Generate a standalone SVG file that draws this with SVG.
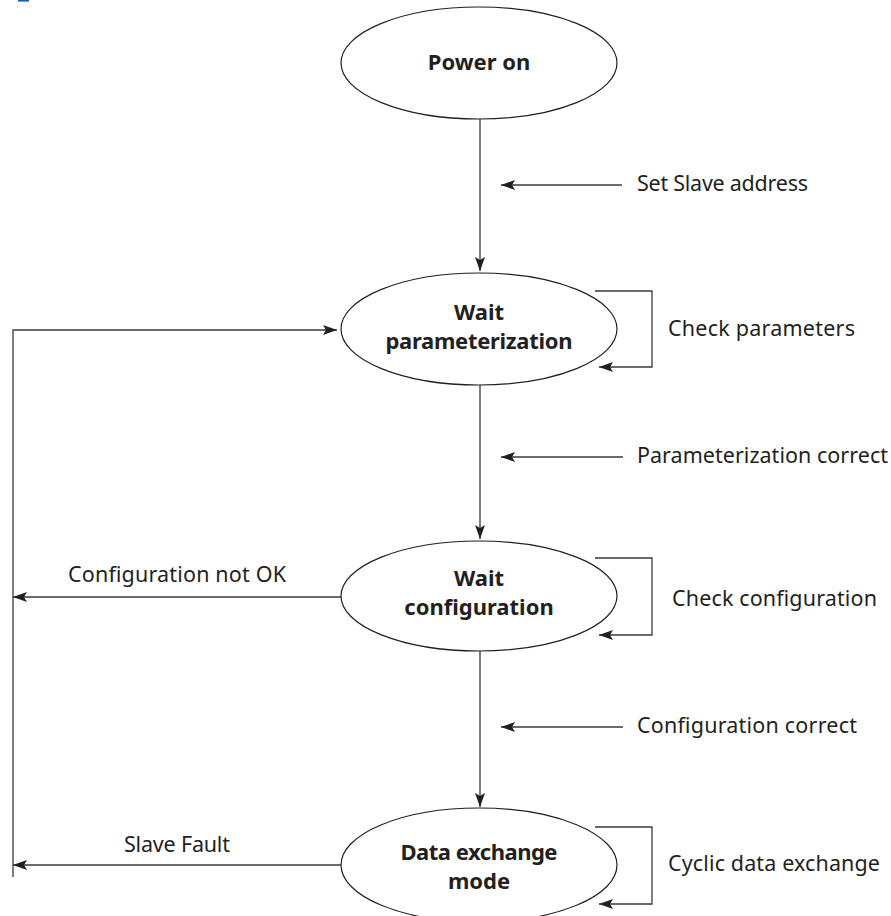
<svg xmlns="http://www.w3.org/2000/svg" width="891" height="916" viewBox="0 0 891 916">
  <defs>
    <marker id="arrow" viewBox="0 0 14 10" refX="14" refY="5" markerWidth="14" markerHeight="10" markerUnits="userSpaceOnUse" orient="auto">
      <path d="M0,0 L14,5 L0,10 L3,5 Z" fill="#231f20"/>
    </marker>
  </defs>
  <style>
    .state { fill: #ffffff; stroke: #231f20; stroke-width: 1.2; }
    .name { font-family: "Noto Sans", "Open Sans", sans-serif; font-weight: bold; font-size: 22px; fill: #231f20; text-anchor: middle; }
    .label { font-family: "Noto Sans", "Open Sans", sans-serif; font-size: 21.5px; fill: #231f20; }
    .wire { fill: none; stroke: #3a3a3a; stroke-width: 1.3; }
  </style>
  <rect width="891" height="916" fill="#ffffff"/>
  <!-- heading fragment -->
  <rect x="18" y="0" width="11" height="1.6" fill="#1a5fa8"/>

  <g id="connectors">
    <!-- main flow -->
    <line class="wire" x1="480" y1="119" x2="480" y2="271" marker-end="url(#arrow)"/>
    <line class="wire" x1="480" y1="385" x2="480" y2="539" marker-end="url(#arrow)"/>
    <line class="wire" x1="480" y1="651" x2="480" y2="807" marker-end="url(#arrow)"/>
    <!-- condition pointers -->
    <line class="wire" x1="622" y1="185" x2="501" y2="185" marker-end="url(#arrow)"/>
    <line class="wire" x1="623" y1="457" x2="501" y2="457" marker-end="url(#arrow)"/>
    <line class="wire" x1="623" y1="727" x2="501" y2="727" marker-end="url(#arrow)"/>
    <!-- self loops -->
    <path class="wire" d="M595,291 H652 V367 H599" marker-end="url(#arrow)"/>
    <path class="wire" d="M595,558 H652 V635 H599" marker-end="url(#arrow)"/>
    <path class="wire" d="M595,827 H652 V904 H599" marker-end="url(#arrow)"/>
    <!-- return path -->
    <line class="wire" x1="341" y1="597" x2="13" y2="597" marker-end="url(#arrow)"/>
    <line class="wire" x1="341" y1="865" x2="13" y2="865" marker-end="url(#arrow)"/>
    <path class="wire" d="M13,877 V330 H337" marker-end="url(#arrow)"/>
  </g>

  <g id="power-on">
    <ellipse class="state" cx="479" cy="63" rx="138" ry="56"/>
    <text class="name" x="479" y="70">Power on</text>
  </g>

  <g id="wait-parameterization">
    <ellipse class="state" cx="479" cy="329" rx="138" ry="56"/>
    <text class="name" x="479" y="320">Wait</text>
    <text class="name" x="479" y="349" textLength="187">parameterization</text>
  </g>

  <g id="wait-configuration">
    <ellipse class="state" cx="479" cy="596" rx="138" ry="55"/>
    <text class="name" x="479" y="586">Wait</text>
    <text class="name" x="479" y="615">configuration</text>
  </g>

  <g id="data-exchange-mode">
    <ellipse class="state" cx="479" cy="865" rx="138" ry="57"/>
    <text class="name" x="479" y="860" textLength="157">Data exchange</text>
    <text class="name" x="479" y="889">mode</text>
  </g>

  <g id="labels">
    <text class="label" x="637" y="191" textLength="171">Set Slave address</text>
    <text class="label" x="668" y="336" textLength="187">Check parameters</text>
    <text class="label" x="637" y="463" textLength="251">Parameterization correct</text>
    <text class="label" x="68" y="582" textLength="218">Configuration not OK</text>
    <text class="label" x="672" y="606" textLength="205">Check configuration</text>
    <text class="label" x="637" y="733" textLength="220">Configuration correct</text>
    <text class="label" x="124" y="852" textLength="106">Slave Fault</text>
    <text class="label" x="668" y="871" textLength="212">Cyclic data exchange</text>
  </g>
</svg>
